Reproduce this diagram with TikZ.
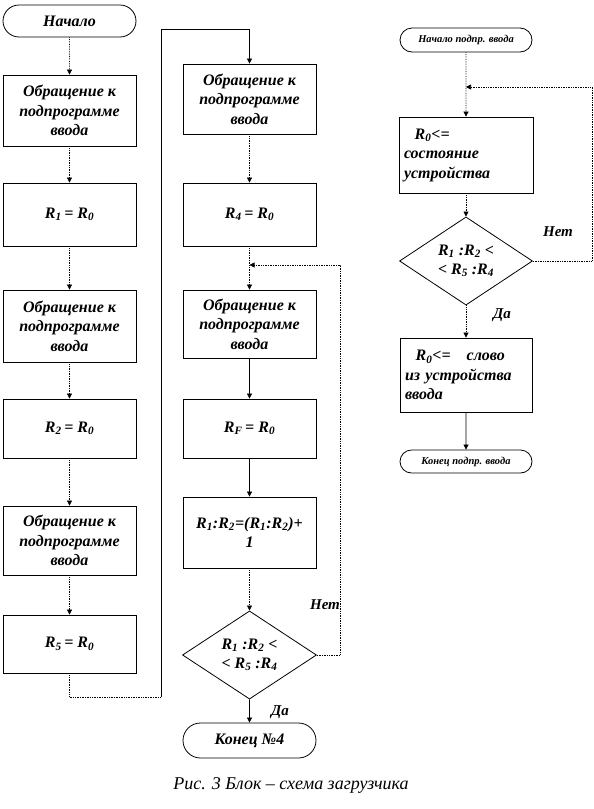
\documentclass[tikz,border=0pt]{standalone}
\usepackage{fontspec}
\setmainfont{Liberation Serif}
\usetikzlibrary{shapes.geometric,shapes.misc,arrows.meta}

\tikzset{
  blok/.style={draw, line width=0.8pt, rectangle, minimum width=133pt, align=center,
    font=\fontsize{16}{19.5}\selectfont\bfseries\itshape},
  term/.style={draw, line width=0.8pt, rounded rectangle, minimum width=133pt, inner sep=0pt,
    font=\fontsize{16}{17}\selectfont\bfseries\itshape},
  usl/.style={draw, line width=0.8pt, diamond, inner sep=0pt, align=center,
    font=\fontsize{16}{19}\selectfont\bfseries\itshape},
  strel/.style={densely dotted, line width=0.7pt, -{Triangle[length=5pt,width=5pt]}},
  metka/.style={font=\fontsize{15}{17}\selectfont\bfseries\itshape}
}

\begin{document}
\begin{tikzpicture}[x=1pt, y=-1pt]
    \useasboundingbox (0,0) rectangle (594,809);

    % Left column
    \node[term, minimum height=32pt] (nach) at (69.5,21) {Начало};
    \node[blok, minimum height=71pt] (ob1) at (69.5,110.5) {Обращение к\\подпрограмме\\ввода};
    \node[blok, minimum height=63pt] (r1) at (69.5,214.5) {R\textsubscript{1}\,= R\textsubscript{0}};
    \node[blok, minimum height=72pt] (ob2) at (69.5,326) {Обращение к\\подпрограмме\\ввода};
    \node[blok, minimum height=59pt] (r2) at (69.5,428.5) {R\textsubscript{2}\,= R\textsubscript{0}};
    \node[blok, minimum height=69pt] (ob3) at (69.5,540.5) {Обращение к\\подпрограмме\\ввода};
    \node[blok, minimum height=58pt] (r5) at (69.5,644) {R\textsubscript{5}\,= R\textsubscript{0}};

    % Middle column
    \node[blok, minimum height=70pt] (ob4) at (249.5,99) {Обращение к\\подпрограмме\\ввода};
    \node[blok, minimum height=63pt] (r4) at (249.5,214.5) {R\textsubscript{4}\,= R\textsubscript{0}};
    \node[blok, minimum height=68pt] (ob5) at (249.5,324) {Обращение к\\подпрограмме\\ввода};
    \node[blok, minimum height=59pt] (rf) at (249.5,428.5) {R\textsubscript{F}\,= R\textsubscript{0}};
    \node[blok, minimum height=71pt] (inc) at (249.5,532.5) {R\textsubscript{1}:R\textsubscript{2}=(R\textsubscript{1}:R\textsubscript{2})+\\1};
    \node[usl, minimum width=134pt, minimum height=80pt] (usl1) at (249.5,655) {R\textsubscript{1} :R\textsubscript{2} <\\< R\textsubscript{5} :R\textsubscript{4}};
    \node[term, minimum height=35pt] (kon) at (249.5,740.5) {Конец №4};

    % Right column
    \node[term, minimum width=132pt, minimum height=24pt, font=\fontsize{10.5}{12}\selectfont\bfseries\itshape] (nachp) at (466,40) {Начало подпр. ввода};
    \node[blok, minimum width=134pt, minimum height=76pt, text width=124pt, align=left] (sost) at (466,155) {\ \ R\textsubscript{0}<=\\состояние\\устройства};
    \node[usl, minimum width=133pt, minimum height=82pt] (usl2) at (466,261) {R\textsubscript{1} :R\textsubscript{2} <\\< R\textsubscript{5} :R\textsubscript{4}};
    \node[blok, minimum width=132pt, minimum height=74pt, text width=122pt, align=left] (slovo) at (466,375) {\ \ R\textsubscript{0}<=\ \ \ слово\\из устройства\\ввода};
    \node[term, minimum width=132pt, minimum height=23pt, font=\fontsize{10.5}{12}\selectfont\bfseries\itshape] (konp) at (466,461.5) {Конец подпр. ввода};

    % Coordinates for the bends
    \coordinate (lniz) at (69.5,697);
    \coordinate (pniz) at (161,697);
    \coordinate (pverh) at (161,29);
    \coordinate (vozv1) at (249.5,265);
    \coordinate (kraj1) at (340,655);
    \coordinate (vozv2) at (466,87);
    \coordinate (kraj2) at (592,261);

    % Left column arrows
    \draw[strel] (nach) -- (ob1);
    \draw[strel] (ob1) -- (r1);
    \draw[strel] (r1) -- (ob2);
    \draw[strel] (ob2) -- (r2);
    \draw[strel] (r2) -- (ob3);
    \draw[strel] (ob3) -- (r5);
    \draw[densely dotted, line width=0.7pt] (r5) -- (lniz) -- (pniz);
    \draw[strel, solid] (pniz) -- (pverh) -| (ob4);

    % Middle column arrows
    \draw[strel] (ob4) -- (r4);
    \draw[strel] (r4) -- (ob5);
    \draw[strel, solid] (ob5) -- (rf);
    \draw[strel, solid] (rf) -- (inc);
    \draw[strel] (inc) -- (usl1);
    \draw[strel] (usl1.east) -- (kraj1) |- (vozv1);
    \draw[strel, solid] (usl1) -- (kon);
    \node[metka] (net1) at (325,605) {Нет};
    \node[metka] (da1) at (280,712) {Да};

    % Right column arrows
    \draw[strel] (nachp) -- (sost);
    \draw[strel] (sost) -- (usl2);
    \draw[strel] (usl2.east) -- (kraj2) |- (vozv2);
    \draw[strel] (usl2) -- (slovo);
    \draw[strel, solid] (slovo) -- (konp);
    \node[metka] (net2) at (558,232) {Нет};
    \node[metka] (da2) at (502,315) {Да};

    % Caption
    \node[font=\fontsize{18}{20}\selectfont\itshape] (podp) at (291,785) {Рис. 3 Блок -- схема загрузчика};
\end{tikzpicture}
\end{document}
